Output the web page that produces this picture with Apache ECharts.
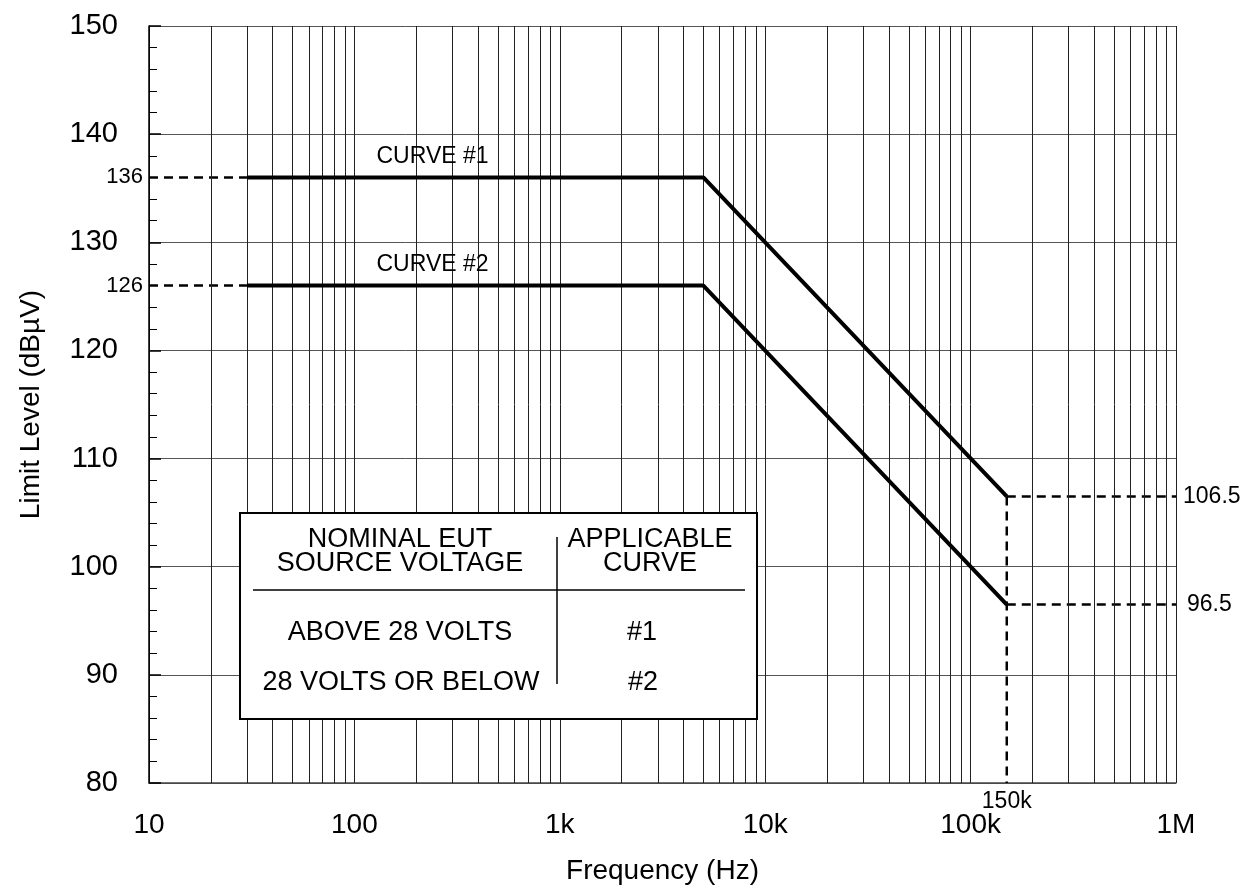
<!DOCTYPE html>
<html>
<head>
<meta charset="utf-8">
<script src="https://cdn.jsdelivr.net/npm/echarts@6/dist/echarts.min.js"></script>
<style>
  html, body { margin: 0; padding: 0; background: #fff; }
  #chart { width: 1247px; height: 890px; }
</style>
</head>
<body>
<div id="chart"></div>
<script>
// ---- data ----
const breakFreqs = [30, 5000, 150000];          // Hz
const curve1Levels = [136, 136, 106.5];         // dBµV
const curve2Levels = [126, 126, 96.5];          // dBµV
const xMin = 10, xMax = 1000000;
const yMin = 80, yMax = 150, yStep = 10;
const xTickValues = [10, 100, 1000, 10000, 100000, 1000000];
const xTickLabels = ['10', '100', '1k', '10k', '100k', '1M'];
const curveNames = ['CURVE #1', 'CURVE #2'];
const curveLabelFreq = 240;
const tableHeaderLeft = 'NOMINAL EUT\nSOURCE VOLTAGE';
const tableHeaderRight = 'APPLICABLE\nCURVE';
const tableVoltages = ['ABOVE 28 VOLTS', '28 VOLTS OR BELOW'];
const tableCurves = ['#1', '#2'];

// minor log gridline positions (2..9 per decade)
const minorFreqs = [];
for (let d = xMin; d < xMax; d *= 10) {
  for (let k = 2; k <= 9; k++) minorFreqs.push(d * k);
}

const FONT = "'Liberation Sans', Arial, Helvetica, sans-serif";
const chart = echarts.init(document.getElementById('chart'), null, { renderer: 'canvas' });

const pts = (fs, ls) => fs.map((f, i) => [f, ls[i]]);
const dashStyle = { color: '#000', width: 2.5, type: [9, 6] };
const lbl = (text, position, distance, size) => ({
  show: true, formatter: text, position: position, distance: distance,
  color: '#000', opacity: 1, fontFamily: FONT, fontSize: size, textBorderWidth: 0
});

const series = [
  {
    type: 'line', name: 'minorGrid', data: [], silent: true,
    markLine: {
      silent: true, symbol: ['none', 'none'], animation: false,
      label: { show: false },
      lineStyle: { type: 'solid', color: '#222', width: 1 },
      data: minorFreqs.map(f => ({ xAxis: f }))
    }
  },
  {
    type: 'line', name: curveNames[0], data: pts(breakFreqs, curve1Levels),
    showSymbol: false, symbol: 'none', lineStyle: { color: '#000', width: 4 }, z: 5
  },
  {
    type: 'line', name: curveNames[1], data: pts(breakFreqs, curve2Levels),
    showSymbol: false, symbol: 'none', lineStyle: { color: '#000', width: 4 }, z: 5
  },
  { type: 'line', data: [[xMin, curve1Levels[0]], [breakFreqs[0], curve1Levels[0]]], symbol: 'none', lineStyle: dashStyle, z: 4 },
  { type: 'line', data: [[xMin, curve2Levels[0]], [breakFreqs[0], curve2Levels[0]]], symbol: 'none', lineStyle: dashStyle, z: 4 },
  { type: 'line', data: [[breakFreqs[2], curve1Levels[2]], [breakFreqs[2], yMin]], symbol: 'none', lineStyle: dashStyle, z: 4 },
  { type: 'line', data: [[breakFreqs[2], curve1Levels[2]], [xMax, curve1Levels[2]]], symbol: 'none', lineStyle: dashStyle, z: 4 },
  { type: 'line', data: [[breakFreqs[2], curve2Levels[2]], [xMax, curve2Levels[2]]], symbol: 'none', lineStyle: dashStyle, z: 4 },
  {
    type: 'scatter', symbolSize: 0.01, clip: false, silent: true,
    itemStyle: { color: '#000', opacity: 1 },
    label: { show: true, color: '#000', fontFamily: FONT, fontSize: 22 },
    data: [
      { value: [xMin, curve1Levels[0]], label: lbl(String(curve1Levels[0]), 'left', 6, 22) },
      { value: [xMin, curve2Levels[0]], label: lbl(String(curve2Levels[0]), 'left', 6, 22) },
      { value: [xMax, curve1Levels[2]], label: lbl(String(curve1Levels[2]), 'right', 7, 23) },
      { value: [xMax, curve2Levels[2]], label: lbl(String(curve2Levels[2]), 'right', 11, 23) },
      { value: [breakFreqs[2], yMin], label: lbl('150k', 'bottom', 7, 23) },
      { value: [curveLabelFreq, curve1Levels[0]], label: lbl(curveNames[0], 'top', 9, 23) },
      { value: [curveLabelFreq, curve2Levels[0]], label: lbl(curveNames[1], 'top', 9, 23) }
    ],
    z: 6
  }
];

// table box (layout only)
const tx = 240, ty = 513, tw = 517, th = 206;
const tableFont = { fontFamily: FONT, fontSize: 27, fill: '#000' };
const T = (text, x, y, extra) => ({
  type: 'text', z: 102, style: Object.assign({ text: text, x: tx + x, y: ty + y, align: 'center', verticalAlign: 'middle' }, tableFont, extra || {})
});
const graphic = [
  { type: 'rect', z: 100, shape: { x: tx, y: ty, width: tw, height: th }, style: { fill: '#fff', stroke: '#000', lineWidth: 2 } },
  { type: 'line', z: 101, shape: { x1: tx + 13, y1: ty + 77, x2: tx + 505, y2: ty + 77 }, style: { stroke: '#000', lineWidth: 1.5 } },
  { type: 'line', z: 101, shape: { x1: tx + 317, y1: ty + 24, x2: tx + 317, y2: ty + 171 }, style: { stroke: '#000', lineWidth: 1.5 } },
  T(tableHeaderLeft, 160, 39, { lineHeight: 24 }),
  T(tableHeaderRight, 410, 39, { lineHeight: 24 }),
  T(tableVoltages[0], 160, 120),
  T(tableVoltages[1], 161, 170),
  T(tableCurves[0], 402, 120),
  T(tableCurves[1], 403, 170)
];

chart.setOption({
  animation: false,
  backgroundColor: '#fff',
  textStyle: { fontFamily: FONT },
  grid: { left: 149, right: 71, top: 26, bottom: 107, containLabel: false },
  xAxis: {
    type: 'log', logBase: 10, min: xMin, max: xMax,
    name: 'Frequency (Hz)', nameLocation: 'middle', nameGap: 74,
    nameTextStyle: { fontFamily: FONT, fontSize: 28, color: '#000' },
    axisLine: { show: true, onZero: false, lineStyle: { color: '#444', width: 1.5 } },
    axisTick: { show: false },
    axisLabel: {
      fontFamily: FONT, fontSize: 28, color: '#000', margin: 28,
      formatter: v => { const i = xTickValues.findIndex(t => Math.abs(t - v) / t < 1e-6); return i >= 0 ? xTickLabels[i] : ''; }
    },
    splitLine: { show: true, lineStyle: { color: '#222', width: 1 } },
    minorTick: { show: false }, minorSplitLine: { show: false }
  },
  yAxis: {
    type: 'value', min: yMin, max: yMax, interval: yStep,
    name: 'Limit Level (dBµV)', nameLocation: 'middle', nameGap: 104, nameRotate: 90,
    nameTextStyle: { fontFamily: FONT, fontSize: 28, color: '#000' },
    axisLine: { show: true, lineStyle: { color: '#000', width: 1.5 } },
    axisTick: { show: true, inside: true, length: 12, lineStyle: { color: '#000', width: 1.5 } },
    minorTick: { show: true, splitNumber: 5, length: 8, lineStyle: { color: '#000', width: 1 } },
    axisLabel: { fontFamily: FONT, fontSize: 29, color: '#000', margin: 31 },
    splitLine: { show: true, lineStyle: { color: '#555', width: 1 } }
  },
  series: series,
  graphic: graphic
});
</script>
</body>
</html>
